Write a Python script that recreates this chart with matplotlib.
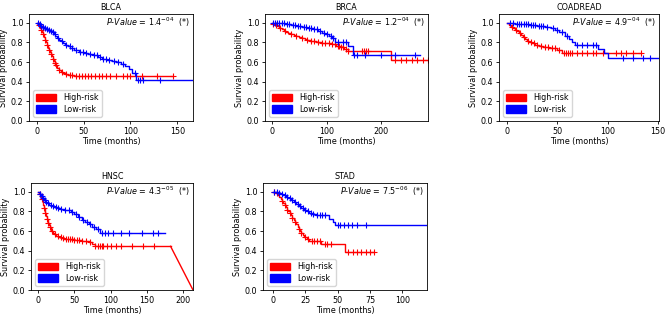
import matplotlib
matplotlib.use("Agg")
import matplotlib.pyplot as plt
from matplotlib.patches import Patch
import numpy as np

plt.rcParams['font.family'] = ['DejaVu Sans']
FS = 5.8

titles = ["BLCA", "BRCA", "COADREAD", "HNSC", "STAD"]
pvals = ["1.4", "1.2", "4.9", "4.3", "7.5"]
pexps = ["-04", "-04", "-04", "-05", "-06"]

# High-risk curves: step times and survival values
high_t = {
    "BLCA": [0, 1, 2, 3, 4, 5, 6, 7, 8, 9, 10, 11, 12, 13, 14, 15, 16, 17, 18, 19, 20,
             22, 24, 26, 28, 30, 33, 36, 40, 145],
    "BRCA": [0, 3, 6, 10, 14, 18, 22, 26, 30, 35, 40, 45, 50, 55, 60, 65, 70, 75, 80, 90,
             100, 110, 118, 125, 132, 140, 218, 285],
    "COADREAD": [0, 2, 4, 6, 8, 10, 12, 14, 16, 18, 20, 22, 25, 28, 32, 36, 42, 50, 55, 133],
    "HNSC": [0, 1, 2, 3, 4, 5, 6, 7, 8, 9, 10, 11, 12, 13, 14, 15, 16, 17, 18, 20, 22, 25,
             28, 32, 36, 42, 50, 60, 70, 75, 78, 183, 214],
    "STAD": [0, 2, 4, 5, 6, 7, 8, 9, 10, 11, 12, 13, 14, 15, 16, 17, 18, 19, 20, 21, 22,
             23, 24, 26, 28, 37, 56, 78],
}
high_s = {
    "BLCA": [1.0, 0.99, 0.98, 0.96, 0.95, 0.93, 0.91, 0.89, 0.86, 0.83, 0.80, 0.77, 0.74,
             0.72, 0.70, 0.68, 0.66, 0.63, 0.61, 0.59, 0.57, 0.54, 0.52, 0.50, 0.49, 0.48,
             0.47, 0.465, 0.46, 0.46],
    "BRCA": [1.0, 0.99, 0.98, 0.97, 0.95, 0.94, 0.92, 0.91, 0.90, 0.89, 0.88, 0.87, 0.86,
             0.85, 0.84, 0.83, 0.82, 0.81, 0.80, 0.795, 0.79, 0.78, 0.76, 0.75, 0.73, 0.71,
             0.62, 0.62],
    "COADREAD": [1.0, 0.98, 0.96, 0.95, 0.93, 0.92, 0.90, 0.88, 0.86, 0.84, 0.82, 0.80,
                 0.79, 0.77, 0.76, 0.75, 0.74, 0.72, 0.69, 0.69],
    "HNSC": [1.0, 0.99, 0.98, 0.96, 0.95, 0.93, 0.90, 0.87, 0.84, 0.81, 0.78, 0.75, 0.72,
             0.70, 0.68, 0.66, 0.64, 0.62, 0.60, 0.58, 0.57, 0.55, 0.54, 0.53, 0.52, 0.52,
             0.51, 0.50, 0.49, 0.47, 0.445, 0.445, 0.0],
    "STAD": [1.0, 0.99, 0.97, 0.95, 0.93, 0.91, 0.89, 0.87, 0.85, 0.82, 0.80, 0.78, 0.76,
             0.73, 0.71, 0.69, 0.67, 0.64, 0.62, 0.60, 0.58, 0.56, 0.54, 0.52, 0.50, 0.47,
             0.39, 0.39],
}
high_c = {
    "BLCA": [2, 5, 7, 9, 11, 13, 15, 17, 19, 21, 24, 27, 31, 35, 38, 42, 45, 48, 52, 55,
             58, 62, 66, 70, 74, 78, 85, 92, 96, 100, 112, 128, 145],
    "BRCA": [3, 8, 15, 25, 35, 45, 55, 65, 72, 78, 85, 92, 98, 104, 110, 115, 120, 122,
             126, 130, 135, 140, 165, 168, 172, 175, 225, 235, 245, 255, 265, 275, 285],
    "COADREAD": [5, 9, 13, 17, 21, 24, 27, 30, 34, 38, 41, 45, 48, 52, 57, 59, 61, 63, 65,
                 70, 75, 80, 85, 88, 95, 108, 113, 118, 125, 133],
    "HNSC": [2, 5, 8, 10, 12, 14, 16, 19, 23, 27, 31, 34, 38, 41, 44, 47, 50, 53, 56, 60,
             66, 72, 78, 82, 85, 88, 90, 95, 100, 107, 115, 130, 145, 160],
    "STAD": [1, 3, 7, 9, 11, 13, 15, 17, 20, 22, 25, 27, 30, 32, 34, 36, 40, 42, 45, 58, 62,
             65, 68, 72, 75, 78],
}
high_linear_tail = {"BLCA": False, "BRCA": False, "COADREAD": False, "HNSC": True, "STAD": False}

# Low-risk curves
low_t = {
    "BLCA": [0, 2, 4, 6, 8, 10, 12, 14, 16, 18, 20, 22, 24, 26, 28, 30, 33, 36, 40, 45, 50,
             55, 60, 65, 70, 75, 80, 85, 90, 94, 98, 102, 106, 167],
    "BRCA": [0, 15, 25, 35, 45, 55, 65, 75, 85, 92, 98, 104, 110, 115, 125, 140, 148, 270],
    "COADREAD": [0, 8, 15, 22, 30, 38, 44, 48, 52, 58, 62, 65, 68, 90, 96, 100, 151],
    "HNSC": [0, 2, 4, 6, 8, 10, 12, 15, 18, 22, 26, 30, 35, 40, 45, 50, 55, 60, 65, 70, 75,
             80, 86, 175],
    "STAD": [0, 2, 4, 6, 8, 10, 12, 14, 16, 18, 20, 22, 24, 26, 28, 30, 33, 43, 46, 48, 119],
}
low_s = {
    "BLCA": [1.0, 0.99, 0.97, 0.96, 0.95, 0.94, 0.93, 0.92, 0.91, 0.89, 0.87, 0.85, 0.83,
             0.81, 0.79, 0.77, 0.76, 0.74, 0.72, 0.70, 0.69, 0.68, 0.67, 0.65, 0.63, 0.62,
             0.61, 0.60, 0.58, 0.56, 0.53, 0.49, 0.42, 0.42],
    "BRCA": [1.0, 0.995, 0.99, 0.98, 0.97, 0.96, 0.95, 0.94, 0.92, 0.90, 0.89, 0.87, 0.85,
             0.80, 0.80, 0.76, 0.67, 0.67],
    "COADREAD": [1.0, 0.99, 0.985, 0.98, 0.97, 0.96, 0.95, 0.93, 0.91, 0.87, 0.84, 0.80,
                 0.77, 0.73, 0.69, 0.64, 0.64],
    "HNSC": [1.0, 0.98, 0.96, 0.94, 0.92, 0.90, 0.89, 0.87, 0.86, 0.85, 0.84, 0.83, 0.82,
             0.81, 0.79, 0.77, 0.74, 0.71, 0.69, 0.67, 0.64, 0.62, 0.58, 0.58],
    "STAD": [1.0, 0.995, 0.99, 0.98, 0.97, 0.95, 0.94, 0.92, 0.90, 0.88, 0.86, 0.84, 0.82,
             0.80, 0.78, 0.77, 0.76, 0.72, 0.69, 0.66, 0.66],
}
low_c = {
    "BLCA": [1, 3, 5, 7, 9, 11, 13, 15, 17, 19, 23, 27, 31, 35, 38, 42, 46, 49, 53, 57, 61,
             64, 67, 71, 74, 77, 82, 87, 92, 105, 108, 110, 113, 132],
    "BRCA": [2, 6, 10, 14, 18, 22, 28, 32, 38, 42, 48, 52, 58, 62, 68, 72, 78, 82, 88, 95,
             100, 108, 112, 120, 130, 135, 150, 155, 170, 200, 225, 262],
    "COADREAD": [3, 6, 10, 12, 14, 17, 19, 21, 24, 26, 28, 32, 34, 36, 40, 46, 50, 55, 60,
                 70, 75, 80, 85, 88, 115, 125, 135, 142],
    "HNSC": [3, 5, 7, 9, 11, 13, 17, 20, 24, 28, 32, 37, 42, 47, 52, 57, 62, 67, 72, 77,
             82, 88, 92, 97, 103, 115, 125, 143, 158, 165],
    "STAD": [1, 3, 5, 7, 9, 11, 13, 15, 17, 19, 21, 23, 25, 27, 29, 31, 34, 36, 38, 40, 50,
             52, 55, 58, 61, 65, 72],
}

xlims = {"BLCA": (-8.2, 166.7), "BRCA": (-12.2, 285), "COADREAD": (-7.6, 150.8),
         "HNSC": (-10, 214), "STAD": (-7.7, 119)}
xticks = {"BLCA": [0, 50, 100, 150], "BRCA": [0, 100, 200], "COADREAD": [0, 50, 100, 150],
          "HNSC": [0, 50, 100, 150, 200], "STAD": [0, 25, 50, 75, 100]}

W, H = 666, 315
positions = {
    "BLCA": (29, 14, 164, 107),
    "BRCA": (265, 14, 163, 107),
    "COADREAD": (499, 14, 160, 107),
    "HNSC": (31, 183, 162, 107),
    "STAD": (263, 183, 164, 107),
}

RED = "#ff0000"
BLUE = "#0000ff"

fig = plt.figure(figsize=(W / 100, H / 100), dpi=100)


def step_value(t, s, x):
    idx = np.searchsorted(t, x, side="right") - 1
    idx = np.clip(idx, 0, len(s) - 1)
    return np.asarray(s)[idx]


def draw_curve(ax, t, s, c, color, linear_tail=False):
    t = np.asarray(t, float)
    s = np.asarray(s, float)
    if linear_tail:
        ax.step(t[:-1], s[:-1], where="post", color=color, lw=1.0)
        ax.plot(t[-2:], s[-2:], color=color, lw=1.0)
    else:
        ax.step(t, s, where="post", color=color, lw=1.0)
    c = np.asarray(c, float)
    ax.plot(c, step_value(t, s, c), ls="none", marker="+", color=color,
            ms=4.5, mew=0.8)


for i, name in enumerate(titles):
    l, tp, w, h = positions[name]
    ax = fig.add_axes([l / W, 1 - (tp + h) / H, w / W, h / H])
    draw_curve(ax, high_t[name], high_s[name], high_c[name], RED, high_linear_tail[name])
    draw_curve(ax, low_t[name], low_s[name], low_c[name], BLUE)
    ax.set_xlim(*xlims[name])
    ax.set_ylim(0, 1.09)
    ax.set_xticks(xticks[name])
    ax.set_yticks([0, 0.2, 0.4, 0.6, 0.8, 1.0])
    ax.tick_params(labelsize=FS, length=2.5, width=0.6, pad=1.5)
    for sp in ax.spines.values():
        sp.set_linewidth(0.6)
    ax.set_title(name, fontsize=FS, pad=3)
    ax.set_xlabel("Time (months)", fontsize=FS, labelpad=1)
    ax.set_ylabel("Survival probability", fontsize=FS, labelpad=2)
    ax.text(0.98, 0.92, r"$P$-$Value$ = " + pvals[i] + r"$^{" + pexps[i] + r"}$  (*)",
            transform=ax.transAxes, ha="right", va="center", fontsize=FS)
    handles = [Patch(color=RED, label="High-risk"), Patch(color=BLUE, label="Low-risk")]
    ax.legend(handles=handles, loc="lower left", fontsize=FS, frameon=True,
              handlelength=2.5, handleheight=1.0, borderpad=0.4, labelspacing=0.3,
              fancybox=True, framealpha=0.8)

fig.savefig("out.png", dpi=100)
